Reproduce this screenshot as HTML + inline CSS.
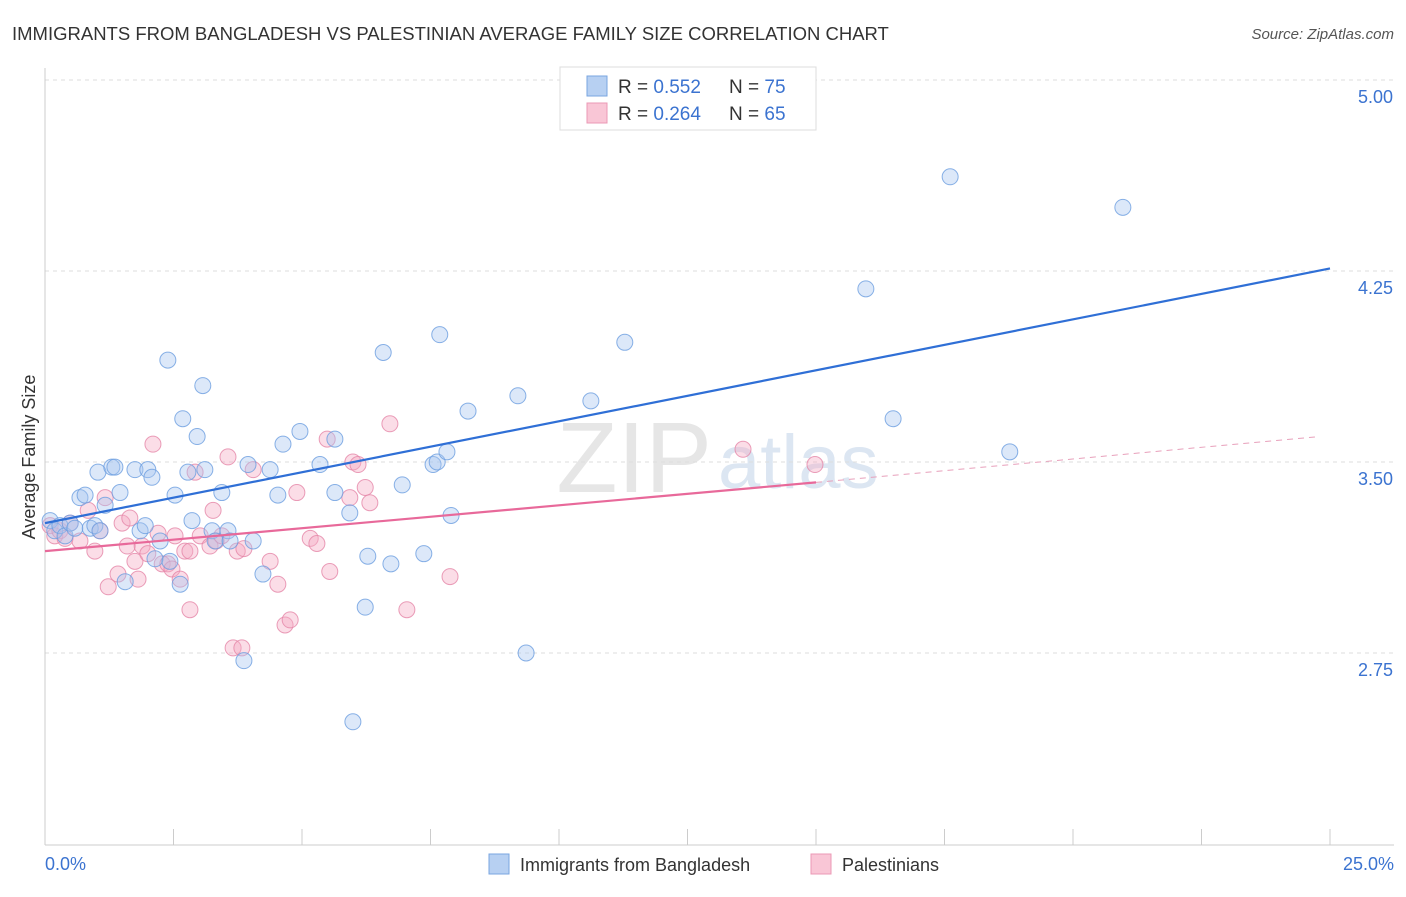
<!DOCTYPE html>
<html><head><meta charset="utf-8"><style>
body{margin:0;background:#fff;font-family:"Liberation Sans",sans-serif;}
svg text{font-family:"Liberation Sans",sans-serif;}
</style></head><body>
<svg id="chart" width="1406" height="892">
<text x="12" y="40" font-size="18.5" fill="#333">IMMIGRANTS FROM BANGLADESH VS PALESTINIAN AVERAGE FAMILY SIZE CORRELATION CHART</text>
<text x="1394" y="39" font-size="15" fill="#555" font-style="italic" text-anchor="end">Source: ZipAtlas.com</text>
<text x="712" y="492" font-size="100" fill="#e6e6e6" text-anchor="end" font-family="Liberation Serif">ZIP</text>
<text x="718" y="488" font-size="76" fill="#dce6f2">atlas</text>
<g id="grid"></g><g id="axes"></g><g id="pts"></g><g id="lines"></g>
<text x="35" y="457" font-size="18" fill="#333" text-anchor="middle" transform="rotate(-90 35 457)">Average Family Size</text>
<text x="45" y="870" font-size="18" fill="#3b73d0">0.0%</text>
<text x="1394" y="870" font-size="18" fill="#3b73d0" text-anchor="end">25.0%</text>
<g>
<rect x="560" y="67" width="256" height="63" fill="#fff" stroke="#ddd"/>
<rect x="587" y="76" width="20" height="20" fill="#b7d0f2" stroke="#7aa6e0"/>
<rect x="587" y="103" width="20" height="20" fill="#f9c6d6" stroke="#eb98b5"/>
<text x="618" y="93" font-size="19" fill="#333">R = <tspan fill="#3b73d0">0.552</tspan></text>
<text x="729" y="93" font-size="19" fill="#333">N = <tspan fill="#3b73d0">75</tspan></text>
<text x="618" y="120" font-size="19" fill="#333">R = <tspan fill="#3b73d0">0.264</tspan></text>
<text x="729" y="120" font-size="19" fill="#333">N = <tspan fill="#3b73d0">65</tspan></text>
</g>
<g>
<rect x="489" y="854" width="20" height="20" fill="#b7d0f2" stroke="#7aa6e0"/>
<text x="520" y="871" font-size="18" fill="#333">Immigrants from Bangladesh</text>
<rect x="811" y="854" width="20" height="20" fill="#f9c6d6" stroke="#eb98b5"/>
<text x="842" y="871" font-size="18" fill="#333">Palestinians</text>
</g>
</svg>
<script>
const blueX=[0.10,0.19,0.29,0.39,0.49,0.58,0.68,0.78,0.88,0.97,1.03,1.07,1.17,1.30,1.36,1.46,1.56,1.75,1.85,1.95,2.00,2.08,2.14,2.24,2.39,2.43,2.53,2.63,2.68,2.78,2.86,2.96,3.07,3.11,3.25,3.31,3.44,3.56,3.60,3.87,3.95,4.05,4.24,4.38,4.53,4.63,4.96,5.35,5.64,5.64,5.93,5.99,6.23,6.28,6.58,6.73,6.95,7.37,7.55,7.63,7.68,7.82,7.90,8.23,9.20,9.36,10.62,11.28,15.97,16.50,17.61,18.77,20.97];
const blueY=[3.27,3.23,3.25,3.21,3.26,3.24,3.36,3.37,3.24,3.25,3.46,3.23,3.33,3.48,3.48,3.38,3.03,3.47,3.23,3.25,3.47,3.44,3.12,3.19,3.90,3.11,3.37,3.02,3.67,3.46,3.27,3.60,3.80,3.47,3.23,3.19,3.38,3.23,3.19,2.72,3.49,3.19,3.06,3.47,3.37,3.57,3.62,3.49,3.59,3.38,3.30,2.48,2.93,3.13,3.93,3.10,3.41,3.14,3.49,3.50,4.00,3.54,3.29,3.70,3.76,2.75,3.74,3.97,4.18,3.67,4.62,3.54,4.50];
const pinkX=[0.10,0.19,0.29,0.39,0.49,0.68,0.84,0.97,1.07,1.17,1.23,1.42,1.50,1.60,1.65,1.75,1.81,1.89,2.00,2.10,2.20,2.28,2.39,2.47,2.53,2.63,2.72,2.82,2.82,2.92,3.02,3.21,3.27,3.33,3.44,3.56,3.66,3.74,3.83,3.87,4.05,4.38,4.53,4.67,4.77,4.90,5.16,5.29,5.49,5.54,5.93,5.99,6.09,6.23,6.32,6.71,7.04,7.88,13.58,14.98];
const pinkY=[3.25,3.21,3.23,3.20,3.26,3.19,3.31,3.15,3.23,3.36,3.01,3.06,3.26,3.17,3.28,3.11,3.04,3.17,3.14,3.57,3.22,3.10,3.10,3.08,3.21,3.04,3.15,3.15,2.92,3.46,3.21,3.17,3.31,3.19,3.21,3.52,2.77,3.15,2.77,3.16,3.47,3.11,3.02,2.86,2.88,3.38,3.20,3.18,3.59,3.07,3.36,3.50,3.49,3.40,3.34,3.65,2.92,3.05,3.55,3.49];
const yTicks=[5.00,4.25,3.50,2.75];
const blueTrend=[[0,3.26],[25,4.26]];
const pinkTrend=[[0,3.15],[15,3.42]];
const pinkDash=[[15,3.42],[24.8,3.60]];
const NS='http://www.w3.org/2000/svg';
const sx=v=>45+v/25*1285, sy=v=>80+(5-v)/0.75*191;
function mk(tag,attrs,parent){const e=document.createElementNS(NS,tag);for(const k in attrs)e.setAttribute(k,attrs[k]);document.getElementById(parent).appendChild(e);return e;}
yTicks.forEach(t=>{
 const l=mk('line',{x1:45,x2:1394,y1:sy(t),y2:sy(t),stroke:'#ddd','stroke-dasharray':'4,4'},'grid');
 
 
 const tx=mk('text',{x:1393,y:sy(t)+23,'font-size':18,fill:'#3b73d0','text-anchor':'end'},'grid');
 tx.textContent=t.toFixed(2);
 
 
});
let ax=mk('line',{x1:45,x2:45,y1:68,y2:845,stroke:'#ccc'},'axes');


ax=mk('line',{x1:45,x2:1394,y1:845,y2:845,stroke:'#ccc'},'axes');


for(let i=1;i<=10;i++){const x=sx(i*2.5);const t=mk('line',{x1:x,x2:x,y1:829,y2:845,stroke:'#ccc'},'axes');
 
 }
function pts(X,Y,fill,stroke,name){X.forEach((x,i)=>{const c=mk('circle',{cx:sx(x),cy:sy(Y[i]),r:8,fill:fill,'fill-opacity':0.4,stroke:stroke,'stroke-width':1,'stroke-opacity':0.8},'pts');
 
 });}
pts(pinkX,pinkY,'#f5a9c2','#e586a8','palestinian-point');
pts(blueX,blueY,'#a7c6ef','#6c9de0','bangladesh-point');
function ln(p,col,dash,name){const l=mk('line',{x1:sx(p[0][0]),y1:sy(p[0][1]),x2:sx(p[1][0]),y2:sy(p[1][1]),stroke:col,'stroke-width':dash?1:2.2},'lines');
 if(dash)l.setAttribute('stroke-dasharray','6,5');
 
 }
ln(blueTrend,'#2f6fd6',false,'bangladesh-trendline');
ln(pinkTrend,'#e8699a',false,'palestinian-trendline');
ln(pinkDash,'#e8a0bb',true,'palestinian-trendline-extension');
</script>
</body></html>
